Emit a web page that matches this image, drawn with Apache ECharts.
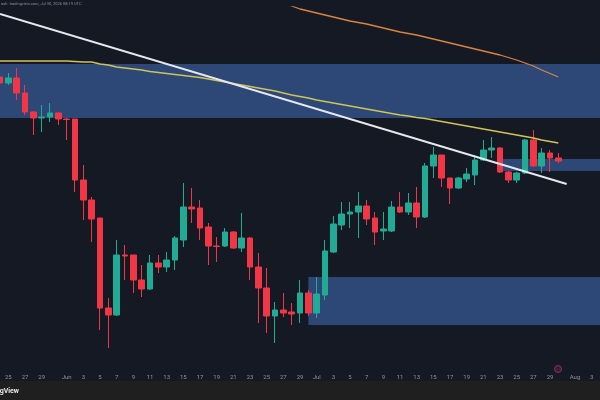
<!DOCTYPE html>
<html><head><meta charset="utf-8">
<script src="https://cdn.jsdelivr.net/npm/echarts@6/dist/echarts.min.js"></script>
<style>html,body{margin:0;padding:0;background:#151924;}#c{width:600px;height:400px;}</style>
</head><body><div id="c"></div>
<script>
// Categories: daily, May 24 – Aug 4
const dates = ['05-24','05-25','05-26','05-27','05-28','05-29','05-30','05-31',
'06-01','06-02','06-03','06-04','06-05','06-06','06-07','06-08','06-09','06-10','06-11','06-12','06-13','06-14','06-15','06-16','06-17','06-18','06-19','06-20','06-21','06-22','06-23','06-24','06-25','06-26','06-27','06-28','06-29','06-30',
'07-01','07-02','07-03','07-04','07-05','07-06','07-07','07-08','07-09','07-10','07-11','07-12','07-13','07-14','07-15','07-16','07-17','07-18','07-19','07-20','07-21','07-22','07-23','07-24','07-25','07-26','07-27','07-28','07-29','07-30','07-31',
'08-01','08-02','08-03','08-04'];
const monthNames = {'05':'May','06':'Jun','07':'Jul','08':'Aug'};

const openV  = [323,317,322,307,288,282,283,287,281,281,220,200,182,92,85,145,145,120,111,137,133,140,160,193,192,173,154,154,168,152,162,133,112,84,90,88,87,107,87,105,148,175,186,188,194,182,169,169,193,188,197,183,234,245,222,212,221,225,240,250,252,228,220,227,260,234,247,242];
const closeV = [317,322,307,288,282,283,287,281,280.5,220,200,181,92,85,145,144,120,111,137,133,140,162,193,191,172,154,153.5,168,152,162,133,112,84,90,87,86,107,87,106,149,176,186,188,194,181,168,171,193,188,197,183,234,245,222,212,222,226,240,250,252,228,220,227,260,234,247,242,239];
const lowV   = [312,315,300,285,265,268,278,275,260,208,180,158,70,52,84,120,107,103,110,127,128,130,153,177,160,135,138,153,151,148,120,77,67,57,83,75,77,84,82,100,147,170,172,162,175,155,160,168,187,185,172,182,222,213,196,211,218,215,239,242,227,217,217,226,233,227,228,237];
const highV  = [328,327,332,315,289,295,297,288,282,281,235,203,182,102,160,155,145,135,145,145,148,164,217,212,200,177,163,172,169,187,163,147,132,98,107,97,120,110,123,160,184,198,198,208,200,188,188,199,208,207,213,237,253,245,222,223,232,245,260,263,253,229,228,261,270,252,250,247];

// Moving averages
const maYellow = [339,339,339,339,339,339,339,339,339,338.5,338,338,336,335,333,332,331,330,328.5,327.5,326.5,325.5,324.5,323.5,322.5,321,319.5,318,316.5,315,313.5,312,310.5,309,307,305,303.5,302,300,298.5,297,295.5,294,292.5,291,289.5,288,286.5,285,284,282.5,281.5,280,278.5,277,275.5,274,272.5,271,269.5,268,266.5,265,263.5,262,260,258.5,257];
const maOrange = [null,null,null,null,null,null,null,null,null,null,null,null,null,null,null,null,null,null,null,null,null,null,null,null,null,null,null,null,null,null,
405,403,401,399,397,394,391,389,387,385,383,381,379,377.5,376,374,372,370,368,366.5,365,363,361,359,357,355,353,351,349,347,345,342.5,340,337,334,330,326.5,323];

// Trendline
const trendX = ['05-24','07-31'];
const trendY = [386, 216];

// Zones [fromDate, toDate, top, bottom]
const zones = [
  ['05-24','08-04',336,282],
  ['06-30','08-04',123,75],
  ['07-23','08-04',241,229]
];

const candles = openV.map((o,i)=>[o, closeV[i], lowV[i], highV[i]]);

const chart = echarts.init(document.getElementById('c'), null, {renderer:'canvas'});
chart.setOption({
  backgroundColor:'#151924',
  animation:false,
  grid:{left:0, right:0, top:7, bottom:32},
  xAxis:{
    type:'category', data:dates, boundaryGap:false,
    axisLine:{show:false}, axisTick:{show:false}, splitLine:{show:false},
    axisLabel:{
      color:'#8f929b', fontSize:6, fontFamily:'Roboto', margin:6,
      interval:function(i,v){const d=parseInt(v.slice(3),10);return d%2===1 && d!==31;},
      formatter:function(v){const d=parseInt(v.slice(3),10);return d===1?monthNames[v.slice(0,2)]:String(d);}
    }
  },
  yAxis:{type:'value', min:32, max:393, show:false, splitLine:{show:false}},
  series:[
    {
      type:'line', data:[], z:1, silent:true,
      markArea:{silent:true, itemStyle:{color:'#2d4876'},
        data:zones.map(z=>[{xAxis:z[0], yAxis:z[2]},{xAxis:z[1], yAxis:z[3]}])}
    },
    {
      type:'candlestick', data:candles, z:3, barWidth:6,
      itemStyle:{color:'#22ab94', color0:'#f23645', borderColor:'#22ab94', borderColor0:'#f23645', borderWidth:1}
    },
    {type:'line', data:maYellow, z:4, symbol:'none', lineStyle:{color:'#cfc456', width:1.3}},
    {type:'line', data:maOrange, z:4, symbol:'none', connectNulls:false, lineStyle:{color:'#d9843f', width:1.3}},
    {type:'line', data:trendX.map((x,i)=>[x,trendY[i]]), z:5, symbol:'none', lineStyle:{color:'#e6e8ee', width:2}}
  ],
  graphic:[
    {type:'text', left:1, top:2, style:{text:'ash  tradingview.com, Jul 30, 2026 08:19 UTC', fill:'#8a8d96', fontSize:4, fontFamily:'Roboto'}},
    {type:'rect', shape:{x:0,y:381,width:600,height:19}, style:{fill:'#1f1f1f'}},
    {type:'text', x:19, y:391, style:{text:'TradingView', fill:'#e8e8e8', fontSize:7, fontWeight:'bold', fontFamily:'Roboto', align:'right', verticalAlign:'middle'}},
    {type:'circle', shape:{cx:558, cy:369, r:3.5}, style:{fill:'#3a1d38', stroke:'#8e2c63', lineWidth:1}}
  ]
});
</script></body></html>
